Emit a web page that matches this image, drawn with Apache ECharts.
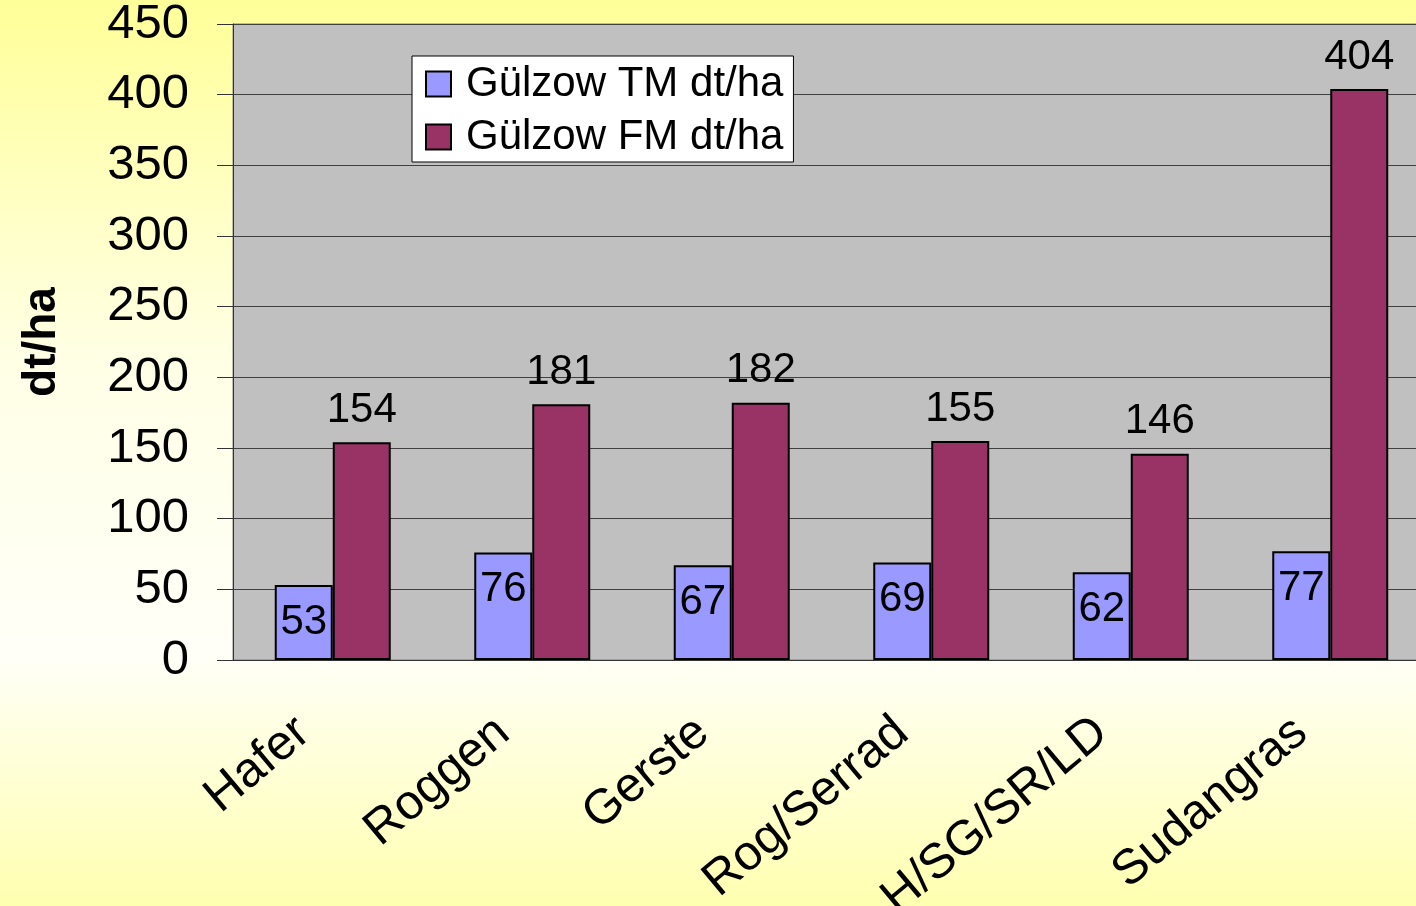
<!DOCTYPE html>
<html>
<head>
<meta charset="utf-8">
<script src="https://cdn.jsdelivr.net/npm/echarts@6/dist/echarts.min.js"></script>
<style>
  html, body { margin: 0; padding: 0; }
  #chart {
    width: 1416px;
    height: 906px;
    background: linear-gradient(to bottom, #ffff99 0%, #ffffe6 40%, #fffff8 72%, #ffffb0 100%);
  }
</style>
</head>
<body>
<div id="chart"></div>
<script>
const categories = ['Hafer', 'Roggen', 'Gerste', 'Rog/Serrad', 'H/SG/SR/LD', 'Sudangras'];
const tmValues = [53, 76, 67, 69, 62, 77];
const fmValues = [154, 181, 182, 155, 146, 404];
const seriesNames = ['Gülzow TM dt/ha', 'Gülzow FM dt/ha'];

const font = 'Arial, "Liberation Sans", sans-serif';
const chart = echarts.init(document.getElementById('chart'));

chart.setOption({
  animation: false,
  textStyle: { fontFamily: font, color: '#000' },
  grid: {
    left: 233,
    top: 24,
    width: 1197,
    height: 636,
    outerBoundsMode: 'none',
    show: true,
    backgroundColor: '#c0c0c0',
    borderColor: '#808080',
    borderWidth: 1
  },
  legend: {
    left: 412,
    top: 56,
    orient: 'vertical',
    backgroundColor: '#ffffff',
    borderColor: '#000',
    borderWidth: 1,
    borderRadius: 0,
    padding: [6, 10, 3, 13],
    itemWidth: 25,
    itemHeight: 25,
    itemGap: 9,
    icon: 'rect',
    textStyle: { fontSize: 42, lineHeight: 44, fontFamily: font, color: '#000', padding: [0, 0, 0, 10] },
    data: seriesNames
  },
  xAxis: {
    type: 'category',
    data: categories,
    axisLine: { lineStyle: { color: '#333', width: 1 } },
    axisTick: { length: 13, lineStyle: { color: '#333' } },
    axisLabel: {
      rotate: 40,
      fontSize: 49,
      fontFamily: font,
      color: '#000',
      margin: 42,
      padding: [0, 38, 0, 0],
      interval: 0
    }
  },
  yAxis: {
    type: 'value',
    min: 0,
    max: 450,
    interval: 50,
    name: 'dt/ha',
    nameLocation: 'middle',
    nameRotate: 90,
    nameGap: 168,
    nameTextStyle: { fontSize: 46, fontWeight: 'bold', fontFamily: font, color: '#000' },
    axisLine: { show: true, lineStyle: { color: '#333', width: 1 } },
    axisTick: { show: true, length: 16, lineStyle: { color: '#333' } },
    axisLabel: { fontSize: 49, fontFamily: font, color: '#000', margin: 44, padding: [7, 0, 0, 0] },
    splitLine: { lineStyle: { color: '#404040', width: 1 } }
  },
  series: [
    {
      name: seriesNames[0],
      type: 'bar',
      data: tmValues,
      barWidth: 58,
      barGap: '0%',
      itemStyle: { color: '#9999ff', borderColor: '#000', borderWidth: 2 },
      label: {
        show: true,
        position: 'insideTop',
        distance: 16,
        fontSize: 42,
        fontFamily: font,
        color: '#000'
      }
    },
    {
      name: seriesNames[1],
      type: 'bar',
      data: fmValues,
      barWidth: 58,
      itemStyle: { color: '#993366', borderColor: '#000', borderWidth: 2 },
      label: {
        show: true,
        position: 'top',
        distance: 11,
        fontSize: 42,
        fontFamily: font,
        color: '#000'
      }
    }
  ]
});
</script>
</body>
</html>
